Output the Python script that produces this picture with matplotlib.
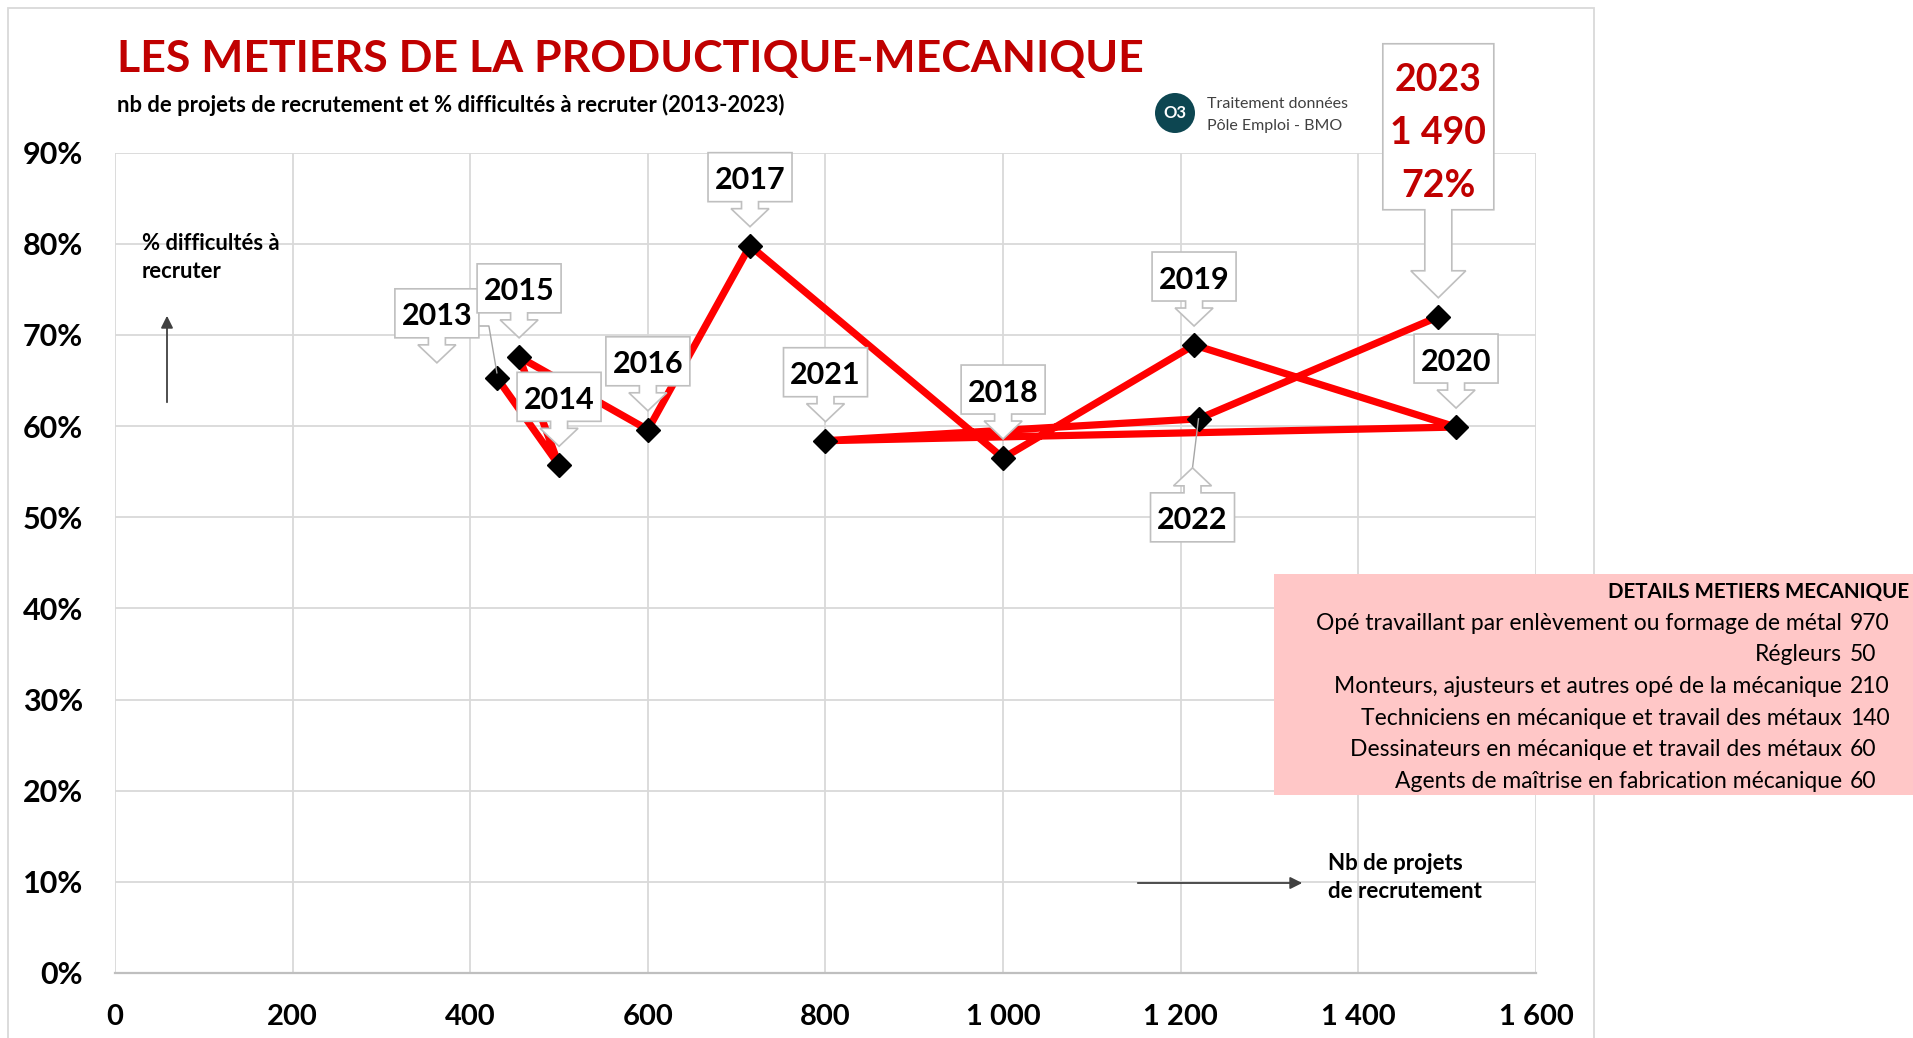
import numpy as np
import matplotlib.pyplot as plt
from matplotlib.patches import Polygon, Rectangle, Circle
from matplotlib.transforms import IdentityTransform
from matplotlib.lines import Line2D

plt.rcParams['font.family'] = ['Lato', 'DejaVu Sans']

# donnees BMO
years = [2013, 2014, 2015, 2016, 2017, 2018, 2019, 2020, 2021, 2022, 2023]
projets = [430, 500, 455, 600, 715, 1000, 1215, 1510, 800, 1220, 1490]
difficultes = [0.653, 0.557, 0.676, 0.596, 0.798, 0.565, 0.689, 0.599, 0.584, 0.608, 0.72]

metiers = ["Opé travaillant par enlèvement ou formage de métal",
           "Régleurs",
           "Monteurs, ajusteurs et autres opé de la mécanique",
           "Techniciens en mécanique et travail des métaux",
           "Dessinateurs en mécanique et travail des métaux",
           "Agents de maîtrise en fabrication mécanique"]
metiers_nb = [970, 50, 210, 140, 60, 60]

xticks = list(range(0, 1601, 200))
xtick_labels = [f"{v:,}".replace(",", " ") for v in xticks]
yticks = [i / 10 for i in range(10)]
ytick_labels = [f"{i * 10}%" for i in range(10)]

RED = '#FF0000'
DARKRED = '#C00000'
GRID = '#D9D9D9'
W, H = 1913, 1038

fig = plt.figure(figsize=(W / 100, H / 100), dpi=100)
ax = fig.add_axes([115 / W, 1 - 973 / H, (1536 - 115) / W, (973 - 152.7) / H])
ax.set_xlim(0, 1600)
ax.set_ylim(0, 0.9)
ax.plot(projets, difficultes, color=RED, lw=5.2, zorder=3, solid_joinstyle='round')
ax.plot(projets, difficultes, ls='none', marker='D', ms=12.5, color='black', zorder=4)

ax.set_xticks(xticks)
ax.set_xticklabels(xtick_labels, fontsize=21, fontweight='bold')
ax.set_yticks(yticks)
ax.set_yticklabels(ytick_labels, fontsize=22, fontweight='bold')
ax.tick_params(length=0, pad=22)
ax.tick_params(axis='y', pad=23)
ax.grid(True, color=GRID, lw=1.3)
ax.set_axisbelow(True)
for s in ['top', 'right', 'left']:
    ax.spines[s].set_visible(False)
ax.spines['bottom'].set_color('#BFBFBF')
ax.spines['bottom'].set_linewidth(1.6)


def img(x, y):
    return x, H - y


def pt_img(i):
    d = ax.transData.transform((projets[i], difficultes[i]))
    return d[0], H - d[1]


def callout(tx, ty, bw, bh, shw, hhw, hh, sl, up=False):
    s = -1 if up else 1
    yb = ty - s * hh
    ys = ty - s * (hh + sl)
    yt = ys - s * bh
    pts = [(tx - bw / 2, yt), (tx + bw / 2, yt), (tx + bw / 2, ys), (tx + shw, ys),
           (tx + shw, yb), (tx + hhw, yb), (tx, ty), (tx - hhw, yb), (tx - shw, yb),
           (tx - shw, ys), (tx - bw / 2, ys)]
    fig.add_artist(Polygon([img(x, y) for x, y in pts], closed=True,
                           transform=IdentityTransform(), facecolor='white',
                           edgecolor='#BFBFBF', lw=1.2, zorder=6))
    return tx, (yt + ys) / 2, yt, ys


# decalage des etiquettes (pixels)
offsets = {2013: (-60, -15), 2022: (-6, 49)}

for i, yr in enumerate(years):
    px, py = pt_img(i)
    if yr == 2023:
        cx, cy, yt, ys = callout(px, py - 19, 111, 166, 13.5, 27.5, 27, 61)
        for k, t in enumerate([str(yr), f"{projets[i]:,}".replace(",", " "),
                               f"{round(difficultes[i] * 100)}%"]):
            fig.text(cx / W, 1 - (yt + 36 + k * 53) / H, t, ha='center', va='center',
                     fontsize=27, fontweight='bold', color=DARKRED, zorder=7)
        continue
    dx, dy = offsets.get(yr, (0, -19))
    up = dy > 0
    cx, cy, yt, ys = callout(px + dx, py + dy, 84, 49, 8.5, 19, 18, 7, up=up)
    fig.text(cx / W, 1 - (cy + 3) / H, str(yr), ha='center', va='center',
             fontsize=22, fontweight='bold', color='black', zorder=7)
    if yr == 2013:
        bx = cx + 42
        fig.add_artist(Line2D([bx, bx + 10, px], [H - 326, H - 326, H - py + 5],
                              transform=IdentityTransform(), color='#A6A6A6', lw=1, zorder=5))
    if yr == 2022:
        fig.add_artist(Line2D([px + dx, px], [H - (py + dy), H - py],
                              transform=IdentityTransform(), color='#A6A6A6', lw=1, zorder=5))

# titres
fig.text(117 / W, 1 - 59 / H, "LES METIERS DE LA PRODUCTIQUE-MECANIQUE", ha='left', va='center',
         fontsize=32, fontweight='bold', color=DARKRED)
fig.text(117 / W, 1 - 105 / H, "nb de projets de recrutement et % difficultés à recruter (2013-2023)",
         ha='left', va='center', fontsize=15.8, fontweight='bold', color='black')

# logo
fig.add_artist(Circle(img(1175, 113), 20, transform=IdentityTransform(),
                      facecolor='#0D4651', edgecolor='none'))
fig.text(1175 / W, 1 - 113 / H, "O3", ha='center', va='center', fontsize=12,
         fontweight='bold', color='white')
fig.text(1207 / W, 1 - 104 / H, "Traitement données", ha='left', va='center',
         fontsize=11.5, color='#404040')
fig.text(1207 / W, 1 - 126 / H, "Pôle Emploi - BMO", ha='left', va='center',
         fontsize=11.5, color='#404040')

# axes descriptifs
fig.text(142 / W, 1 - 243 / H, "% difficultés à", ha='left', va='center', fontsize=15.8,
         fontweight='bold')
fig.text(142 / W, 1 - 272 / H, "recruter", ha='left', va='center', fontsize=15.8,
         fontweight='bold')
ax.annotate('', xy=img(167, 313), xytext=img(167, 405), xycoords='figure pixels',
            arrowprops=dict(arrowstyle='-|>', color='#404040', lw=1.3, mutation_scale=18))
fig.text(1328 / W, 1 - 863 / H, "Nb de projets", ha='left', va='center', fontsize=16,
         fontweight='bold')
fig.text(1328 / W, 1 - 891 / H, "de recrutement", ha='left', va='center', fontsize=16,
         fontweight='bold')
ax.annotate('', xy=img(1305, 883), xytext=img(1135, 883), xycoords='figure pixels',
            arrowprops=dict(arrowstyle='-|>', color='#404040', lw=1.3, mutation_scale=18))

# cadre exterieur
fig.add_artist(Rectangle(img(8, 1060), 1586, 1052, transform=IdentityTransform(),
                         facecolor='none', edgecolor=GRID, lw=1.3, zorder=0))

# encadre details
fig.add_artist(Rectangle(img(1274, 795), W - 1274, 221, transform=IdentityTransform(),
                         facecolor='#FFC7C7', edgecolor='none', zorder=8))
fig.text(1909 / W, 1 - 592 / H, "DETAILS METIERS MECANIQUE", ha='right', va='center',
         fontsize=14.8, fontweight='bold', zorder=9)
for k, (m, n) in enumerate(zip(metiers, metiers_nb)):
    y = 623 + k * 31.7
    fig.text(1842 / W, 1 - y / H, m, ha='right', va='center', fontsize=16.5, zorder=9)
    fig.text(1850 / W, 1 - y / H, str(n), ha='left', va='center', fontsize=16.5, zorder=9)

fig.savefig('out.png', dpi=100)
